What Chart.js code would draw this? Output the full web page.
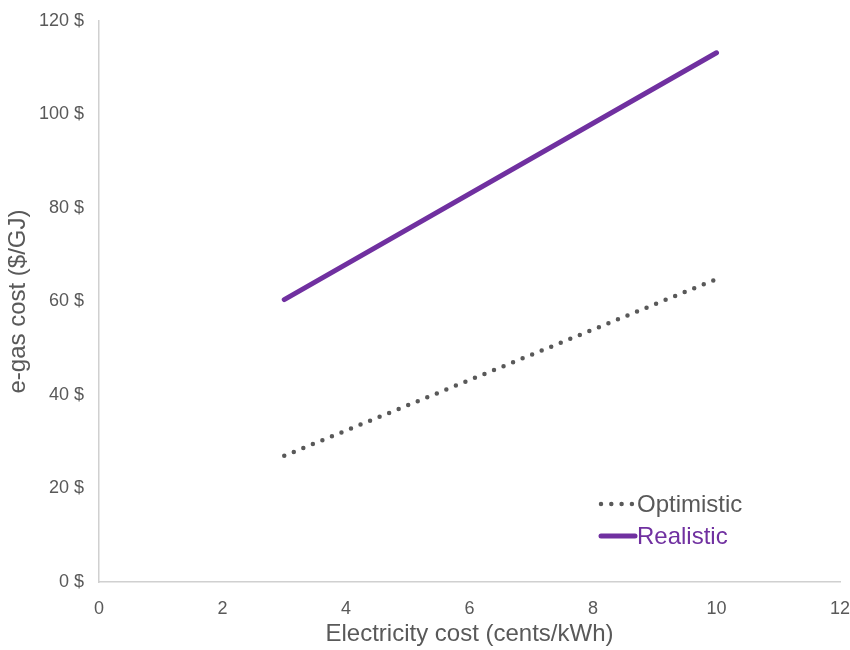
<!DOCTYPE html>
<html>
<head>
<meta charset="utf-8">
<script src="https://cdn.jsdelivr.net/npm/chart.js@4"></script>
<style>
  html, body { margin: 0; padding: 0; background: #fff; }
  #wrap { width: 850px; height: 650px; }
</style>
</head>
<body>
<div id="wrap"><canvas id="chart" width="850" height="650"></canvas></div>
<script>
// Electricity cost (cents/kWh) and e-gas cost ($/GJ)
const electricityCost = [3, 10];
const optimistic = [27, 64.8];
const realistic = [60.4, 113.2];
const xTicks = [0, 2, 4, 6, 8, 10, 12];
const yTicks = [0, 20, 40, 60, 80, 100, 120];

const grey = '#595959';
const purple = '#7030A0';
const font = 'Liberation Sans, Arial, sans-serif';

// legend drawn inside the plot, bottom right
const insideLegend = {
    id: 'insideLegend',
    afterDraw(chart) {
        const ctx = chart.ctx;
        const items = chart.data.datasets;
        const x0 = 599, y0 = 504, gap = 32;
        ctx.save();
        items.forEach((ds, i) => {
            const y = y0 + i * gap;
            ctx.beginPath();
            ctx.strokeStyle = ds.borderColor;
            ctx.lineWidth = ds.borderWidth;
            ctx.lineCap = ds.borderCapStyle || 'butt';
            ctx.setLineDash(ds.borderDash || []);
            ctx.moveTo(x0 + 2, y);
            ctx.lineTo(x0 + 36, y);
            ctx.stroke();
            ctx.setLineDash([]);
            ctx.fillStyle = ds.legendColor;
            ctx.font = '24px ' + font;
            ctx.textBaseline = 'middle';
            ctx.fillText(ds.label, x0 + 38, y + 1);
        });
        ctx.restore();
    }
};

new Chart(document.getElementById('chart').getContext('2d'), {
    type: 'line',
    data: {
        datasets: [{
            label: 'Optimistic',
            data: electricityCost.map((x, i) => ({ x: x, y: optimistic[i] })),
            borderColor: grey,
            legendColor: grey,
            borderWidth: 4.5,
            borderDash: [0, 10.3],
            borderCapStyle: 'round',
            pointRadius: 0,
            fill: false
        }, {
            label: 'Realistic',
            data: electricityCost.map((x, i) => ({ x: x, y: realistic[i] })),
            borderColor: purple,
            legendColor: purple,
            borderWidth: 5,
            borderCapStyle: 'round',
            pointRadius: 0,
            fill: false
        }]
    },
    options: {
        responsive: false,
        animation: false,
        layout: { padding: { left: 0, top: 21, right: 10, bottom: -3 } },
        plugins: {
            legend: { display: false },
            tooltip: { enabled: false }
        },
        scales: {
            x: {
                type: 'linear',
                min: 0,
                max: 12,
                afterBuildTicks: s => { s.ticks = xTicks.map(v => ({ value: v })); },
                afterFit: s => { s.height = 71; s.paddingLeft = 0; s.paddingRight = 0; },
                grid: { display: false, drawTicks: false },
                border: { color: '#d0d0d0', width: 1.5 },
                ticks: { color: grey, font: { family: font, size: 18 }, padding: 16 },
                title: {
                    display: true,
                    text: 'Electricity cost (cents/kWh)',
                    color: grey,
                    font: { family: font, size: 24 },
                    padding: { top: 0 }
                }
            },
            y: {
                min: 0,
                max: 120,
                afterBuildTicks: s => { s.ticks = yTicks.map(v => ({ value: v })); },
                afterFit: s => { s.width = 99; s.paddingTop = 0; s.paddingBottom = 0; },
                grid: { display: false, drawTicks: false },
                border: { color: '#d0d0d0', width: 1.5 },
                ticks: {
                    color: grey,
                    font: { family: font, size: 18 },
                    padding: 15,
                    callback: v => v + ' $'
                },
                title: {
                    display: true,
                    text: 'e-gas cost ($/GJ)',
                    color: grey,
                    font: { family: font, size: 24 },
                    padding: { bottom: 0 }
                }
            }
        }
    },
    plugins: [insideLegend]
});
</script>
</body>
</html>
